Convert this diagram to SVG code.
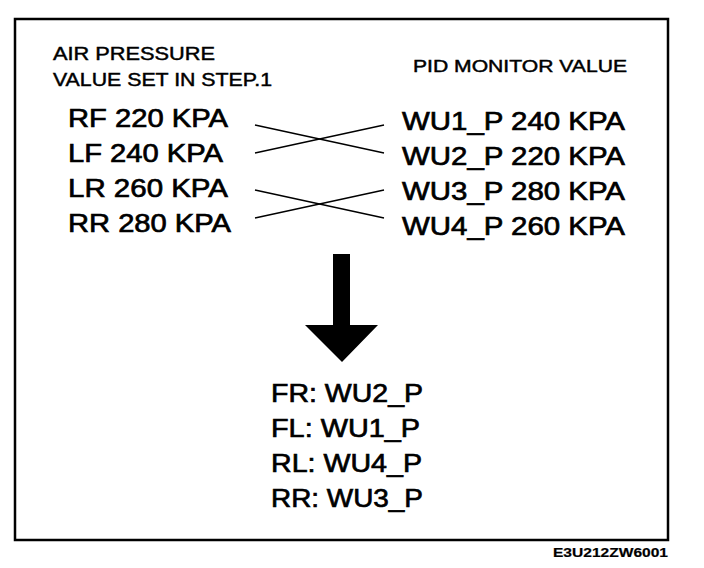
<svg xmlns="http://www.w3.org/2000/svg" width="704" height="568" viewBox="0 0 704 568">
<style>
text{font-family:"Liberation Sans",Arial,Helvetica,sans-serif;fill:#000;stroke:#000}
.hd{font-size:18px;stroke-width:0.45}
.hd2{font-size:17px;stroke-width:0.45}
.big{font-size:26.5px;stroke-width:0.7}
.res{font-size:26.5px;stroke-width:0.7}
.code{font-size:13px;font-weight:bold;stroke-width:0.2}
.x{stroke:#000;stroke-width:1.4;fill:none}
</style>
<rect width="704" height="568" fill="#fff"/>
<rect id="frame" x="15" y="19" width="653" height="521" fill="none" stroke="#000" stroke-width="2.5"/>
<g id="header-left">
<text class="hd" x="53" y="60" textLength="162" lengthAdjust="spacingAndGlyphs">AIR PRESSURE</text>
<text class="hd" x="53" y="86" textLength="219" lengthAdjust="spacingAndGlyphs">VALUE SET IN STEP.1</text>
</g>
<g id="header-right">
<text class="hd2" x="413" y="72" textLength="214" lengthAdjust="spacingAndGlyphs">PID MONITOR VALUE</text>
</g>
<g id="set-values">
<text class="big" x="68" y="127" textLength="160" lengthAdjust="spacingAndGlyphs">RF 220 KPA</text>
<text class="big" x="68" y="162" textLength="155" lengthAdjust="spacingAndGlyphs">LF 240 KPA</text>
<text class="big" x="68" y="197" textLength="160" lengthAdjust="spacingAndGlyphs">LR 260 KPA</text>
<text class="big" x="68" y="232" textLength="163" lengthAdjust="spacingAndGlyphs">RR 280 KPA</text>
</g>
<g id="pid-values">
<text class="big" x="402" y="130" textLength="223" lengthAdjust="spacingAndGlyphs">WU1_P 240 KPA</text>
<text class="big" x="402" y="165" textLength="223" lengthAdjust="spacingAndGlyphs">WU2_P 220 KPA</text>
<text class="big" x="402" y="200" textLength="223" lengthAdjust="spacingAndGlyphs">WU3_P 280 KPA</text>
<text class="big" x="402" y="235" textLength="223" lengthAdjust="spacingAndGlyphs">WU4_P 260 KPA</text>
</g>
<g id="connectors">
<line class="x" x1="255" y1="125" x2="384" y2="153"/>
<line class="x" x1="255" y1="153" x2="384" y2="125"/>
<line class="x" x1="255" y1="190" x2="384" y2="218"/>
<line class="x" x1="255" y1="218" x2="384" y2="190"/>
</g>
<g id="arrow">
<polygon points="333,254 350,254 350,325 378,325 342,362 305,325 333,325" fill="#000"/>
</g>
<g id="result">
<text class="res" x="271" y="402" textLength="152" lengthAdjust="spacingAndGlyphs">FR: WU2_P</text>
<text class="res" x="271" y="437" textLength="149" lengthAdjust="spacingAndGlyphs">FL: WU1_P</text>
<text class="res" x="271" y="472" textLength="151" lengthAdjust="spacingAndGlyphs">RL: WU4_P</text>
<text class="res" x="271" y="507" textLength="152" lengthAdjust="spacingAndGlyphs">RR: WU3_P</text>
</g>
<text class="code" x="553" y="557" textLength="115" lengthAdjust="spacingAndGlyphs">E3U212ZW6001</text>
</svg>
